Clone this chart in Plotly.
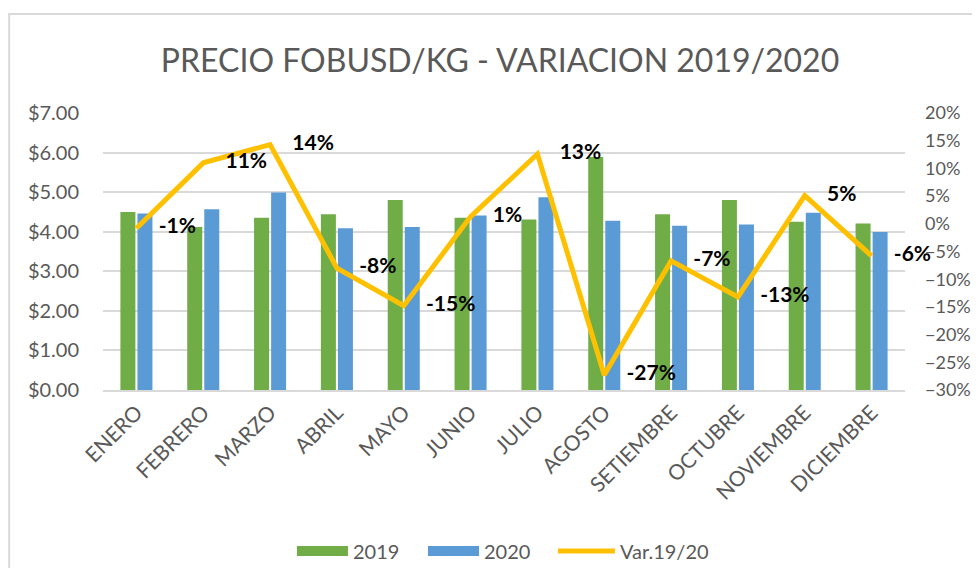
import plotly.graph_objects as go

# datos
meses = ["ENERO", "FEBRERO", "MARZO", "ABRIL", "MAYO", "JUNIO", "JULIO",
         "AGOSTO", "SETIEMBRE", "OCTUBRE", "NOVIEMBRE", "DICIEMBRE"]
precio_2019 = [4.50, 4.12, 4.35, 4.44, 4.80, 4.35, 4.31, 5.89, 4.44, 4.80, 4.25, 4.21]
precio_2020 = [4.46, 4.57, 4.99, 4.09, 4.12, 4.41, 4.87, 4.28, 4.15, 4.18, 4.48, 3.99]
variacion = [-0.8, 11.0, 14.3, -8.0, -14.8, 1.3, 12.6, -27.3, -6.7, -13.2, 5.1, -5.8]

FONT = "Lato, Open Sans, sans-serif"
GRIS = "#595959"
VERDE, AZUL, AMARILLO = "#70AD47", "#5B9BD5", "#FFC000"

fig = go.Figure()

fig.add_trace(go.Bar(x=meses, y=precio_2019, name="2019", showlegend=False,
                     marker=dict(color=VERDE, line=dict(width=0))))
fig.add_trace(go.Bar(x=meses, y=precio_2020, name="2020", showlegend=False,
                     marker=dict(color=AZUL, line=dict(width=0))))

# linea de variacion (eje derecho)
fig.add_trace(go.Scatter(x=meses, y=variacion, name="Var.19/20", yaxis="y2",
                         mode="lines", line=dict(color=AMARILLO, width=5), showlegend=False))

# etiquetas de la variacion
fig.add_trace(go.Scatter(x=meses, y=variacion, yaxis="y2", mode="markers+text",
                         marker=dict(size=34, color="rgba(0,0,0,0)"),
                         texttemplate="%{y:.0f}%", textposition="middle right",
                         textfont=dict(family=FONT, size=21, color="black", weight="bold"),
                         cliponaxis=False, showlegend=False, hoverinfo="skip"))

# leyenda estilo excel: una leyenda por serie para controlar la separacion
items = [("2019", VERDE, 11, "legend", 0.2356, 51),
         ("2020", AZUL, 11, "legend2", 0.3990, 51),
         ("Var.19/20", AMARILLO, 5, "legend3", 0.5610, 57)]
leyendas = {}
for nombre, color, ancho, leg, xpos, iw in items:
    fig.add_trace(go.Scatter(x=[None], y=[None], name=nombre, mode="lines", legend=leg,
                             line=dict(color=color, width=ancho)))
    leyendas[leg] = dict(orientation="h", x=xpos, xanchor="left", y=-0.581, yanchor="middle",
                         font=dict(size=20, color=GRIS), itemwidth=iw,
                         bgcolor="rgba(0,0,0,0)")

fig.update_layout(
    width=972, height=560,
    title=dict(text="PRECIO FOBUSD/KG - VARIACION 2019/2020", x=0.5062, xanchor="center",
               y=0.9054, yanchor="middle", font=dict(family=FONT, size=32, color=GRIS)),
    font=dict(family=FONT, color=GRIS),
    plot_bgcolor="white", paper_bgcolor="white",
    barmode="group", bargap=0.49, bargroupgap=0.12,
    margin=dict(l=95, r=75, t=105, b=178, autoexpand=False),
    xaxis=dict(range=[-0.5, 11.5], showgrid=False, showline=True, linecolor="#D9D9D9",
               linewidth=2, tickangle=-45, tickfont=dict(size=21, color=GRIS), ticks="",
               automargin=False),
    yaxis=dict(range=[0, 7], dtick=1, tickprefix="$", tickformat=".2f",
               gridcolor="#D9D9D9", gridwidth=2, zeroline=False, automargin=False,
               tickfont=dict(size=20, color=GRIS), ticklabelstandoff=23),
    yaxis2=dict(range=[-30, 20], dtick=5, ticksuffix="%", overlaying="y", side="right",
                showgrid=False, zeroline=False, automargin=False,
                tickfont=dict(size=18, color=GRIS), ticklabelstandoff=19),
    shapes=[dict(type="rect", xref="paper", yref="paper", x0=-0.117, x1=1.3,
                 y0=-1.2, y1=1.357, line=dict(color="#D9D9D9", width=2), layer="below")],
    **leyendas,
)

fig.write_html("out.html")
